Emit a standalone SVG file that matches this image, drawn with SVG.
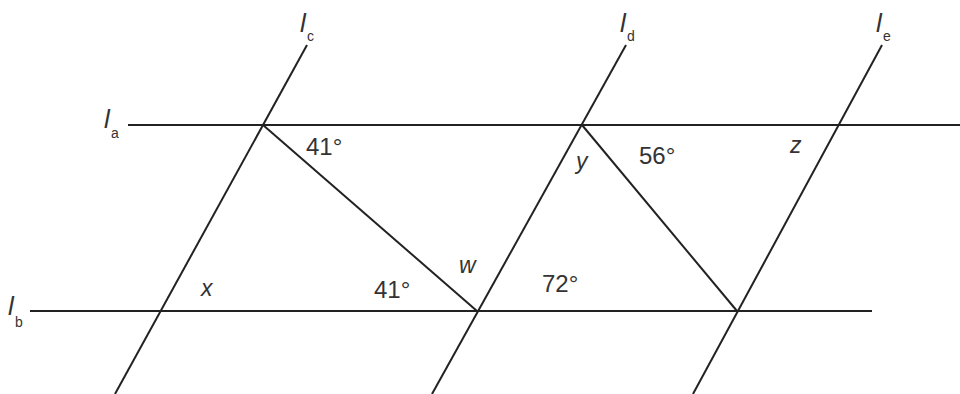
<svg xmlns="http://www.w3.org/2000/svg" width="960" height="394" viewBox="0 0 960 394">
<style>
.ln{stroke:#222;stroke-width:2;fill:none;stroke-linecap:butt}
.lbl{font-family:"Liberation Sans",Arial,sans-serif;font-size:24px;fill:#333}
.var{font-family:"Liberation Sans",Arial,sans-serif;font-size:23px;font-style:italic;fill:#333}
.nm{font-family:"Liberation Sans",Arial,sans-serif;font-size:26px;font-style:italic;fill:#333}
.sub{font-family:"Liberation Sans",Arial,sans-serif;font-size:14px;fill:#333}
</style>
<rect width="960" height="394" fill="#fff"/>
<g id="connectors">
<line class="ln" x1="128" y1="125" x2="960" y2="125"/>
<line class="ln" x1="30" y1="311" x2="872" y2="311"/>
<line class="ln" x1="307" y1="45" x2="115" y2="394"/>
<line class="ln" x1="626" y1="45" x2="432" y2="394"/>
<line class="ln" x1="882" y1="45" x2="693" y2="394"/>
<line class="ln" x1="263" y1="125" x2="477" y2="311"/>
<line class="ln" x1="582" y1="125" x2="737" y2="311"/>
</g>
<g id="la"><text class="nm" x="104" y="128">l</text><text class="sub" x="111" y="138">a</text></g>
<g id="lb"><text class="nm" x="8" y="315">l</text><text class="sub" x="15" y="327">b</text></g>
<g id="lc"><text class="nm" x="300" y="32">l</text><text class="sub" x="307" y="41">c</text></g>
<g id="ld"><text class="nm" x="620" y="32">l</text><text class="sub" x="627" y="41">d</text></g>
<g id="le"><text class="nm" x="876" y="32">l</text><text class="sub" x="883" y="41">e</text></g>
<g id="a41top"><text class="lbl" x="306" y="155">41°</text></g>
<g id="a56"><text class="lbl" x="639" y="164">56°</text></g>
<g id="y"><text class="var" x="576" y="169">y</text></g>
<g id="z"><text class="var" x="790" y="153">z</text></g>
<g id="w"><text class="var" x="459" y="273">w</text></g>
<g id="x"><text class="var" x="201" y="296">x</text></g>
<g id="a41bot"><text class="lbl" x="374" y="298">41°</text></g>
<g id="a72"><text class="lbl" x="542" y="292">72°</text></g>
</svg>
